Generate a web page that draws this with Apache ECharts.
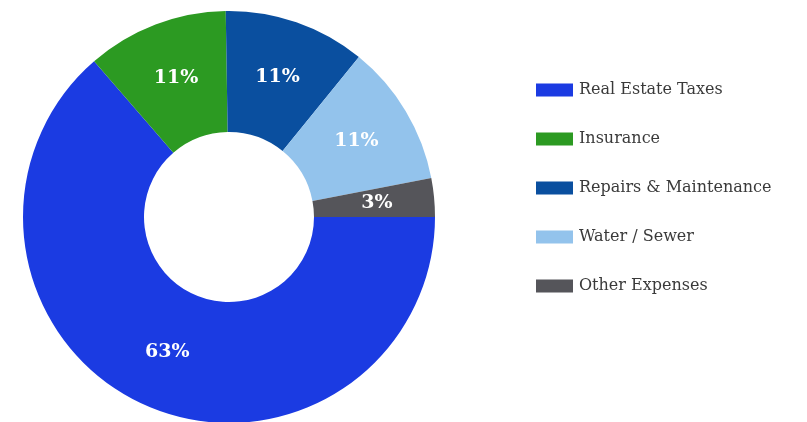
<!DOCTYPE html>
<html>
<head>
<meta charset="utf-8">
<script src="https://cdn.jsdelivr.net/npm/echarts@6/dist/echarts.min.js"></script>
<style>
  html, body { margin: 0; padding: 0; background: #ffffff; }
  #chart { width: 807px; height: 422px; }
</style>
</head>
<body>
<div id="chart"></div>
<script>
// Operating expense breakdown (percent of total)
const categories = ['Real Estate Taxes', 'Insurance', 'Repairs & Maintenance', 'Water / Sewer', 'Other Expenses'];
const shares = [63, 11, 11, 11, 3];
const colors = ['#1b3be2', '#2c9a22', '#0a4f9f', '#93c3ec', '#55555a'];

const chart = echarts.init(document.getElementById('chart'), null, { renderer: 'canvas' });

const serif = "'DejaVu Serif', 'Liberation Serif', serif";

chart.setOption({
  animation: false,
  backgroundColor: '#ffffff',
  color: colors,
  legend: {
    orient: 'vertical',
    left: 531,
    top: 77,
    itemWidth: 37,
    itemHeight: 13,
    itemGap: 33,
    icon: 'rect',
    textStyle: {
      fontFamily: serif,
      fontSize: 16,
      color: '#3a3a3a',
      padding: [0, 0, 0, 1]
    },
    data: categories
  },
  series: [{
    type: 'pie',
    center: [229, 217],
    radius: [85, 206],
    startAngle: 0,
    clockwise: true,
    avoidLabelOverlap: false,
    label: {
      show: true,
      position: 'inside',
      formatter: '{c}%',
      color: '#ffffff',
      fontFamily: serif,
      fontWeight: 'bold',
      fontSize: 19
    },
    labelLine: { show: false },
    itemStyle: { borderWidth: 0 },
    emphasis: { disabled: true },
    data: categories.map((name, i) => ({ name: name, value: shares[i] }))
  }]
});
</script>
</body>
</html>
